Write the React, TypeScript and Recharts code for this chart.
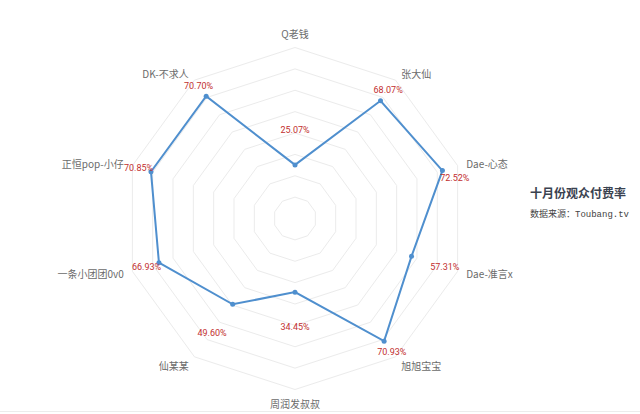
import { RadarChart, Radar, PolarGrid, PolarAngleAxis, PolarRadiusAxis } from "recharts";

// 十月份观众付费率
const players = [
    "Q老钱",
    "张大仙",
    "Dae-心态",
    "Dae-准言x",
    "旭旭宝宝",
    "周润发叔叔",
    "仙某某",
    "一条小团团0v0",
    "正恒pop-小仔",
    "DK-不求人",
];
const payRates = [25.07, 68.07, 72.52, 57.31, 70.93, 34.45, 49.6, 66.93, 70.85, 70.7];
const radiusTicks = [0, 10, 20, 30, 40, 50, 60, 70, 80];

const title = "十月份观众付费率";
const subtitlePrefix = "数据来源：";
const subtitleSource = "Toubang.tv";

const data = players.map((name, i) => ({ name, rate: payRates[i] }));

const CX = 295;
const CY = 218.5;
const LINE = "#4f8fce";
const NARROW = '"Liberation Sans Narrow", "Noto Sans CJK SC", sans-serif';

function AngleTick(props: any) {
    const { x, y, payload, textAnchor } = props;
    const dx = x - CX;
    const dy = y - CY;
    let shift = 0;
    if (Math.abs(dx) < 1) shift = dy < 0 ? -6.5 : 5.5;
    else if (dy > 100) shift = 2;
    return (
        <text
            x={x + (Math.abs(dx) < 1 ? 0 : dx > 0 ? 1 : -1)}
            y={y + shift}
            textAnchor={Math.abs(dx) < 1 ? "middle" : textAnchor}
            dominantBaseline="central"
            fill="#6b6b6b"
            fontSize={10}
            fontFamily={NARROW}
        >
            {payload.value}
        </text>
    );
}

function RateDot(props: any) {
    const { cx, cy, payload, index } = props;
    const r = Math.hypot(cx - CX, cy - CY) || 1;
    const ux = (cx - CX) / r;
    const uy = (cy - CY) / r;
    const off = r > 130 ? 13 : 35;
    // the label next to the axis name on the upper right is pushed below the point
    const bump = ux > 0.9 && uy < 0 ? 11 : 0;
    const lx = CX + ux * (r + off);
    const ly = CY + uy * (r + off) + bump;
    const v = payload && payload.value != null ? payload.value : payRates[index];
    return (
        <g key={`dot-${index}`}>
            <circle cx={cx} cy={cy} r={2.5} fill={LINE} />
            <text
                x={lx}
                y={ly}
                textAnchor="middle"
                dominantBaseline="central"
                fill="#c22f2f"
                fontSize={9}
                fontFamily='"Liberation Sans Narrow", "Roboto", sans-serif'
            >
                {Number(v).toFixed(2)}%
            </text>
        </g>
    );
}

export default function App() {
    return (
        <div style={{ position: "relative", width: 640, height: 414, background: "#fff", overflow: "hidden" }}>
            <style>{"body{margin:0}"}</style>

            {/* ===== RADAR ===== */}
            <RadarChart width={640} height={414} data={data} cx={CX} cy={CY} outerRadius={171}
                        margin={{ top: 0, right: 0, bottom: 0, left: 0 }}>
                <PolarGrid gridType="polygon" radialLines={false} stroke="#ebebeb" />
                <PolarAngleAxis dataKey="name" tickLine={false} axisLine={false} tick={<AngleTick />} />
                <PolarRadiusAxis
                    domain={[0, 80]}
                    ticks={radiusTicks as any}
                    tickCount={9}
                    tick={false}
                    axisLine={false}
                />
                <Radar
                    dataKey="rate"
                    stroke={LINE}
                    strokeWidth={2}
                    fill="none"
                    fillOpacity={0}
                    dot={(p: any) => <RateDot {...p} />}
                    isAnimationActive={false}
                />
            </RadarChart>

            {/* ===== TITLE ===== */}
            <div style={{
                position: "absolute", left: 530, top: 184, fontSize: 12, lineHeight: "18px", fontWeight: 700,
                color: "#3a4250", fontFamily: '"Noto Sans CJK SC", sans-serif', whiteSpace: "nowrap",
            }}>
                {title}
            </div>
            <div style={{
                position: "absolute", left: 530, top: 207, fontSize: 9, lineHeight: "13px",
                color: "#444", fontFamily: '"Noto Sans CJK SC", sans-serif', whiteSpace: "nowrap",
            }}>
                {subtitlePrefix}
                <span style={{ fontFamily: '"Liberation Mono", "DejaVu Sans Mono", monospace' }}>{subtitleSource}</span>
            </div>

            {/* faint rule at the bottom */}
            <div style={{ position: "absolute", left: 0, top: 411, width: 640, borderTop: "1px solid #ececec" }} />
        </div>
    );
}
